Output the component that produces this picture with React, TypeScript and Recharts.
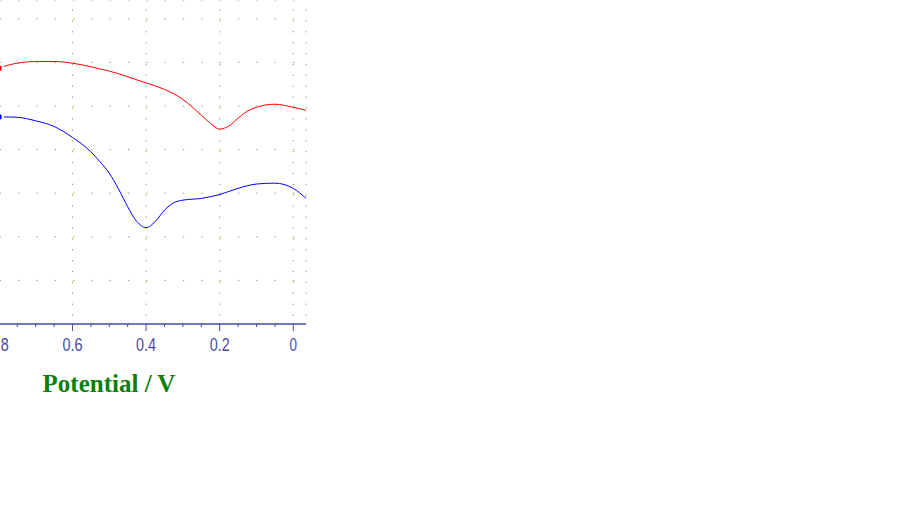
import { LineChart, Line, XAxis, YAxis, CartesianGrid } from "recharts"

// potential (V) on a shared grid, current in arbitrary units (one unit per grid row)
const potentials = [0.82, 0.8, 0.75, 0.7, 0.65, 0.6, 0.55, 0.525, 0.5, 0.475, 0.45, 0.425, 0.4, 0.375, 0.35, 0.325, 0.3, 0.25, 0.225, 0.2, 0.175, 0.15, 0.125, 0.1, 0.05, 0, -0.035]
const redCurrent = [5.8, 5.87, 5.98, 6.02, 6.02, 5.98, 5.9, 5.85, 5.8, 5.74, 5.67, 5.6, 5.53, 5.46, 5.38, 5.28, 5.15, 4.79, 4.6, 4.47, 4.54, 4.72, 4.88, 4.97, 5.04, 4.97, 4.9]
const blueCurrent = [4.75, 4.75, 4.74, 4.66, 4.53, 4.28, 3.95, 3.72, 3.46, 3.1, 2.69, 2.35, 2.21, 2.35, 2.61, 2.78, 2.84, 2.88, 2.92, 2.97, 3.04, 3.11, 3.17, 3.21, 3.23, 3.11, 2.88]

const majorTicks = [0.8, 0.6, 0.4, 0.2, 0]
const minorTicks = [0.8, 0.75, 0.7, 0.65, 0.6, 0.55, 0.5, 0.45, 0.4, 0.35, 0.3, 0.25, 0.2, 0.15, 0.1, 0.05, 0]
const rowTicks = [1, 2, 3, 4, 5, 6, 7]

const data = potentials.map((v, i) => ({ v, red: redCurrent[i], blue: blueCurrent[i] }))

// the chart is shifted 40px left so only the right part of the plot is in view
const shift = 40
const xDomain = [-0.0346, 0.9055]
const axisColor = "#4a4aa6"
const gridColor = "#7fa545"

const AxisTick = ({ x, y, payload }: any) => {
  const val = payload.value
  const major = majorTicks.some((m) => Math.abs(m - val) < 1e-6)
  const label = val === 0 ? "0" : String(val)
  return (
    <g>
      <line x1={x} x2={x} y1={y} y2={y + (major ? 7 : 3)} stroke={axisColor} strokeWidth={1} />
      {major && (
        <text
          x={x}
          y={y + 27}
          textAnchor="middle"
          fill={axisColor}
          fontSize={18}
          fontFamily="'Liberation Sans', Arial, sans-serif"
          textLength={label.length > 1 ? 20 : 7.5}
          lengthAdjust="spacingAndGlyphs"
        >
          {label}
        </text>
      )}
    </g>
  )
}

const AxisTitle = () => (
  <text
    x={109 + shift}
    y={392}
    textAnchor="middle"
    fill="#0a800a"
    fontSize={25}
    fontWeight="bold"
    fontFamily="'Liberation Serif', 'Times New Roman', serif"
  >
    Potential / V
  </text>
)

export default function App() {
  return (
    <div style={{ position: "absolute", left: -shift, top: 0, width: 900, height: 506 }}>
      <LineChart width={900} height={506} data={data} margin={{ top: 0, right: 900 - 306 - shift, bottom: 152, left: 0 }}>
        <XAxis
          dataKey="v"
          type="number"
          domain={xDomain}
          allowDataOverflow
          reversed
          ticks={minorTicks}
          interval={0}
          tickSize={0}
          tickMargin={0}
          tickLine={false}
          tick={<AxisTick />}
          axisLine={{ stroke: axisColor, strokeWidth: 1.3 }}
          height={30}
          label={AxisTitle}
        />
        <XAxis xAxisId="grid" dataKey="v" type="number" domain={xDomain} allowDataOverflow reversed ticks={majorTicks} hide />
        <YAxis type="number" domain={[0, 7.43]} ticks={rowTicks} allowDataOverflow hide />
        <CartesianGrid
          vertical={false}
          stroke={gridColor}
          strokeDasharray="1.3 17.03"
          strokeDashoffset={-3}
        />
        <CartesianGrid
          xAxisId="grid"
          horizontal={false}
          stroke={gridColor}
          strokeDasharray="1.3 9.6"
          strokeDashoffset={1.6}
        />
        <Line type="monotone" dataKey="red" stroke="#ff0000" strokeWidth={1} dot={false} isAnimationActive={false} />
        <Line type="monotone" dataKey="blue" stroke="#0000ff" strokeWidth={1} dot={false} isAnimationActive={false} />
      </LineChart>
    </div>
  )
}
